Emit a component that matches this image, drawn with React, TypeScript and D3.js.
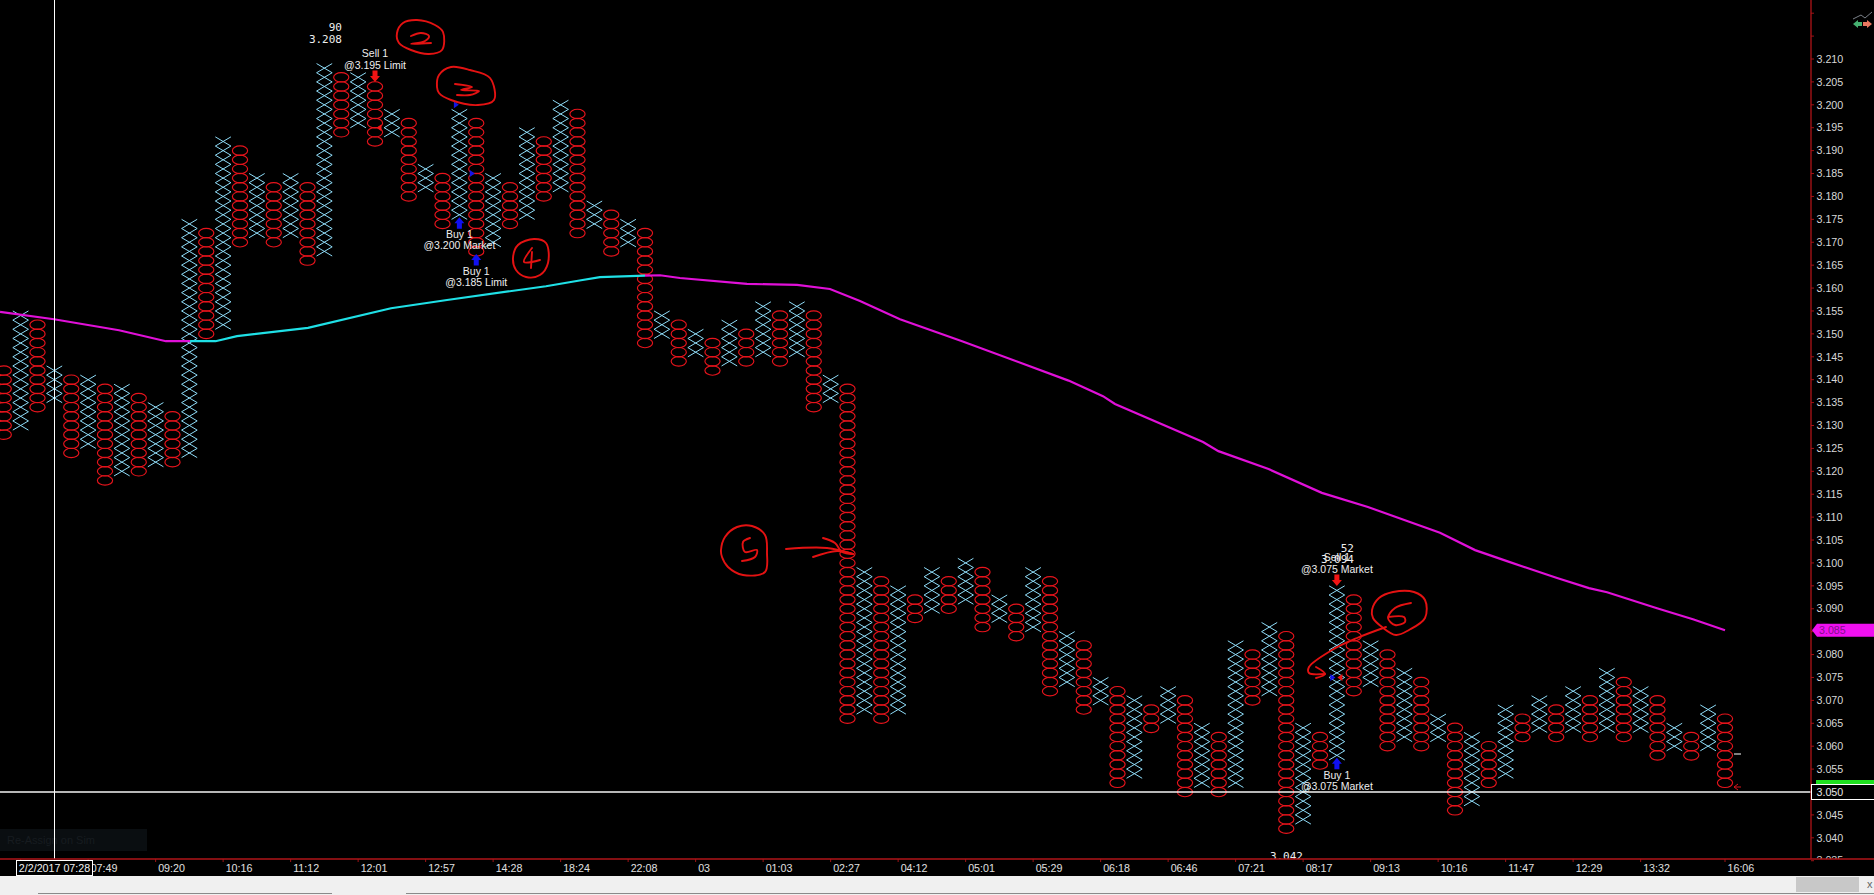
import * as React from "react";
import * as d3 from "d3";

// point & figure columns, even index = O column, odd index = X column
const columnHighs = [
  3.142, 3.154, 3.152, 3.142, 3.14, 3.14, 3.138, 3.138, 3.136, 3.134, 3.132, 3.174, 3.172,
  3.192, 3.19, 3.184, 3.182, 3.184, 3.182, 3.208, 3.206, 3.206, 3.204, 3.198, 3.196, 3.186,
  3.184, 3.198, 3.196, 3.184, 3.182, 3.194, 3.192, 3.2, 3.198, 3.178, 3.176, 3.174, 3.172,
  3.154, 3.152, 3.15, 3.148, 3.152, 3.15, 3.156, 3.154, 3.156, 3.154, 3.14, 3.138, 3.098,
  3.096, 3.094, 3.092, 3.098, 3.096, 3.1, 3.098, 3.092, 3.09, 3.098, 3.096, 3.084, 3.082,
  3.074, 3.072, 3.07, 3.068, 3.072, 3.07, 3.064, 3.062, 3.082, 3.08, 3.086, 3.084, 3.064,
  3.062, 3.094, 3.092, 3.082, 3.08, 3.076, 3.074, 3.066, 3.064, 3.062, 3.06, 3.068, 3.066,
  3.07, 3.068, 3.072, 3.07, 3.076, 3.074, 3.072, 3.07, 3.064, 3.062, 3.068, 3.066,
];
const columnLows = [
  3.128, 3.13, 3.134, 3.136, 3.124, 3.126, 3.118, 3.12, 3.12, 3.122, 3.122, 3.124, 3.15,
  3.152, 3.17, 3.172, 3.17, 3.172, 3.166, 3.168, 3.194, 3.196, 3.192, 3.194, 3.18, 3.182,
  3.174, 3.176, 3.168, 3.17, 3.174, 3.176, 3.18, 3.182, 3.172, 3.174, 3.168, 3.17, 3.148,
  3.15, 3.144, 3.146, 3.142, 3.144, 3.144, 3.146, 3.144, 3.146, 3.134, 3.136, 3.066, 3.068,
  3.066, 3.068, 3.088, 3.09, 3.09, 3.092, 3.086, 3.088, 3.084, 3.086, 3.072, 3.074, 3.068,
  3.07, 3.052, 3.054, 3.064, 3.066, 3.05, 3.052, 3.05, 3.052, 3.07, 3.072, 3.042, 3.044,
  3.056, 3.058, 3.072, 3.074, 3.06, 3.062, 3.06, 3.062, 3.046, 3.048, 3.052, 3.054, 3.062,
  3.064, 3.062, 3.064, 3.062, 3.064, 3.062, 3.064, 3.058, 3.06, 3.058, 3.06, 3.052,
];
const boxSize = 0.002;

// moving average, first stretch falling, then rising (cyan), then falling again
const maFallingColsA = [-0.22, 2.98, 6.83, 9.61, 11.04];
const maFallingValuesA = [3.1548, 3.1532, 3.1508, 3.1484, 3.1484];
const maRisingCols = [11.04, 12.55, 13.82, 18.03, 22.95, 26.27, 32.13, 34.21, 35.33, 38];
const maRisingValues = [3.1484, 3.1484, 3.1495, 3.1513, 3.1556, 3.1574, 3.1604, 3.1617, 3.1624, 3.1627];
const maFallingColsB = [
  38, 38.89, 40.07, 44.04, 47.01, 48.96, 50.74, 53.11, 56.79, 63.1, 65.14, 65.85, 71.07, 71.98,
  74.95, 78.11, 80.84, 85.11, 87.19, 89.08, 92.05, 93.94, 95.01, 97.97, 100.1, 102,
];
const maFallingValuesB = [
  3.1627, 3.1628, 3.1622, 3.1609, 3.1607, 3.1598, 3.1572, 3.1532, 3.1484, 3.1398, 3.1364, 3.1347,
  3.1264, 3.1244, 3.1205, 3.1153, 3.1122, 3.1066, 3.1028, 3.1004, 3.0967, 3.0945, 3.0936, 3.0901,
  3.0877, 3.0853,
];

const priceTicks = d3.range(0, 38).map((i) => +(3.22 - i * 0.005).toFixed(3));
const priceLabels = priceTicks.filter((p) => p <= 3.21);
const timeCols = [1, 5, 9, 13, 17, 21, 25, 29, 33, 37, 41, 45, 49, 53, 57, 61, 65, 69, 73, 77, 81, 85, 89, 93, 97, 102];
const timeLabels = [
  "06:58", "07:49", "09:20", "10:16", "11:12", "12:01", "12:57", "14:28", "18:24", "22:08", "03",
  "01:03", "02:27", "04:12", "05:01", "05:29", "06:18", "06:46", "07:21", "08:17", "09:13", "10:16",
  "11:47", "12:29", "13:32", "16:06",
];

// price is the box the arrow points at
const trades = [
  { col: 22, side: "sell", price: 3.204, title: "Sell 1", order: "@3.195 Limit" },
  { col: 27, side: "buy", price: 3.176, title: "Buy 1", order: "@3.200 Market" },
  { col: 28, side: "buy", price: 3.168, title: "Buy 1", order: "@3.185 Limit" },
  { col: 79, side: "sell", price: 3.094, title: "Sell 1", order: "@3.075 Market" },
  { col: 79, side: "buy", price: 3.058, title: "Buy 1", order: "@3.075 Market" },
];

// the hand drawn annotations on top of the screenshot
type Ink = { pts: [number, number][]; closed?: boolean };
const ink: Ink[] = [
  { closed: true, pts: [[397, 33], [403, 23], [417, 20], [435, 25], [443, 32], [442, 50], [429, 54], [411, 50], [399, 43]] },
  { pts: [[411, 36], [421, 33], [429, 36], [425, 41], [411, 44], [431, 43]] },
  { closed: true, pts: [[437, 87], [439, 75], [451, 67], [470, 70], [490, 78], [494, 100], [478, 105], [451, 100], [439, 93]] },
  { pts: [[455, 84], [472, 87], [461, 90], [479, 91], [470, 95], [457, 95]] },
  { closed: true, pts: [[513, 258], [518, 245], [534, 239], [546, 243], [548, 263], [540, 275], [526, 277], [516, 270]] },
  { pts: [[532, 248], [524, 262], [540, 260]] },
  { pts: [[532, 252], [531, 268]] },
  { closed: true, pts: [[721, 550], [725, 537], [737, 527], [752, 526], [765, 535], [767, 553], [765, 572], [743, 575], [728, 567], [722, 557]] },
  { pts: [[750, 538], [743, 542], [745, 552], [757, 550], [755, 557], [742, 561]] },
  { pts: [[786, 549], [827, 548], [853, 554]] },
  { pts: [[823, 538], [835, 543], [842, 552], [853, 554]] },
  { pts: [[813, 557], [837, 551], [853, 554]] },
  { closed: true, pts: [[1372, 610], [1379, 598], [1393, 592], [1414, 592], [1425, 600], [1425, 618], [1409, 630], [1396, 635], [1382, 627], [1373, 618]] },
  { pts: [[1411, 603], [1395, 608], [1388, 618], [1395, 625], [1405, 622], [1404, 617], [1388, 617]] },
  { pts: [[1386, 627], [1357, 638], [1332, 650], [1309, 667], [1309, 673], [1325, 674]] },
  { pts: [[1316, 667], [1325, 674], [1316, 678]] },
];

const WIDTH = 1874;
const HEIGHT = 895;
const AXIS_X = 1811;
const AXIS_Y = 859;
const SANS = "'Liberation Sans', Arial, sans-serif";
const MONO = "'DejaVu Sans Mono', monospace";

export default function App() {
  const svgRef = React.useRef<SVGSVGElement>(null);

  React.useEffect(() => {
    if (!svgRef.current) return;
    const svg = d3.select(svgRef.current);
    svg.selectAll("*").remove();

    const x = d3.scaleLinear().domain([0, 102]).range([3.75, 1725]);
    const y = d3.scaleLinear().domain([3.21, 3.05]).range([59, 792]);

    const defs = svg.append("defs");
    defs.append("clipPath").attr("id", "plot").append("rect")
      .attr("width", AXIS_X).attr("height", AXIS_Y);
    defs.append("clipPath").attr("id", "side").append("rect")
      .attr("x", AXIS_X).attr("width", WIDTH - AXIS_X).attr("height", AXIS_Y);

    svg.append("rect").attr("width", WIDTH).attr("height", HEIGHT).attr("fill", "#000");

    // faint order box bottom left
    svg.append("rect").attr("x", 0).attr("y", 829).attr("width", 147).attr("height", 22).attr("fill", "#0a0e11");
    svg.append("text").attr("x", 7).attr("y", 844).text("Re-Assign on Sim")
      .attr("fill", "#171c20").attr("font-family", SANS).attr("font-size", 11);

    const plot = svg.append("g").attr("clip-path", "url(#plot)");

    // columns
    columnHighs.forEach((high, i) => {
      const low = columnLows[i];
      const count = Math.round((high - low) / boxSize) + 1;
      const cx = x(i);
      const col = plot.append("g");
      d3.range(count).forEach((k) => {
        const cy = y(low + k * boxSize);
        if (i % 2 === 0) {
          col.append("ellipse")
            .attr("cx", cx).attr("cy", cy).attr("rx", 7.6).attr("ry", 4.7)
            .attr("fill", "none").attr("stroke", "#e8141c").attr("stroke-width", 1.15);
        } else {
          col.append("path")
            .attr("d", `M${cx - 7.8},${cy - 4.6}L${cx + 7.8},${cy + 4.6}M${cx + 7.8},${cy - 4.6}L${cx - 7.8},${cy + 4.6}`)
            .attr("fill", "none").attr("stroke", "#8fdcf8").attr("stroke-width", 1);
        }
      });
    });

    // moving average
    const maLine = d3.line<number>().x((d) => x(d)).curve(d3.curveLinear);
    const drawMa = (cols: number[], values: number[], color: string) => {
      plot.append("path")
        .attr("d", maLine.y((_, i) => y(values[i]))(cols))
        .attr("fill", "none").attr("stroke", color).attr("stroke-width", 2.2);
    };
    drawMa(maFallingColsA, maFallingValuesA, "#e010d8");
    drawMa(maRisingCols, maRisingValues, "#1fe0e6");
    drawMa(maFallingColsB, maFallingValuesB, "#e010d8");

    // trades
    trades.forEach((t) => {
      const cx = x(t.col);
      const g = plot.append("g");
      const isSell = t.side === "sell";
      const tip = y(t.price) + (isSell ? -4.5 : 2.5);
      const dir = isSell ? -1 : 1;
      g.append("path")
        .attr("d", `M${cx},${tip}L${cx + 5},${tip + dir * 6}L${cx + 2.5},${tip + dir * 6}L${cx + 2.5},${tip + dir * 11.5}L${cx - 2.5},${tip + dir * 11.5}L${cx - 2.5},${tip + dir * 6}L${cx - 5},${tip + dir * 6}Z`)
        .attr("fill", isSell ? "#f01414" : "#1010f0");
      const top = isSell ? tip - 28.5 : tip + 17;
      g.append("text").attr("x", cx).attr("y", top).attr("dy", "0.35em").text(t.title)
        .attr("text-anchor", "middle").attr("fill", "#eee").attr("font-family", SANS).attr("font-size", 10.5);
      g.append("text").attr("x", cx).attr("y", top + 11.5).attr("dy", "0.35em").text(t.order)
        .attr("text-anchor", "middle").attr("fill", "#eee").attr("font-family", SANS).attr("font-size", 10.5);
    });

    // little entry / exit markers
    const marker = (px: number, py: number, dir: number, color: string) => {
      plot.append("path")
        .attr("d", `M${px - dir * 2.5},${py - 3.5}L${px + dir * 2.5},${py}L${px - dir * 2.5},${py + 3.5}Z`)
        .attr("fill", color);
    };
    marker(x(27) - 3, y(3.2), 1, "#1414e6");
    marker(x(28) - 4, y(3.185), 1, "#1414e6");
    marker(x(22) + 4, y(3.195), -1, "#f01414");
    marker(x(79) - 4, y(3.075), 1, "#1414e6");
    marker(x(79) + 3, y(3.075), -1, "#f01414");

    // high / low labels
    const mono = (px: number, py: number, label: string, anchor: string) =>
      plot.append("text").attr("x", px).attr("y", py).attr("dy", "0.35em").text(label)
        .attr("text-anchor", anchor).attr("fill", "#eee")
        .attr("font-family", MONO).attr("font-size", 11);
    mono(342, 27, "90", "end");
    mono(342, 39, "3.208", "end");
    mono(1354, 548, "52", "end");
    mono(1354, 559, "3.094", "end");
    mono(1303, 856, "3.042", "end");

    // last price dash and arrow
    plot.append("line").attr("x1", 1734).attr("x2", 1741).attr("y1", 754).attr("y2", 754)
      .attr("stroke", "#fff").attr("stroke-width", 1);
    plot.append("path").attr("d", "M1734,787l7,0M1734,787l4,-3M1734,787l4,3")
      .attr("fill", "none").attr("stroke", "#d5141c").attr("stroke-width", 1);

    // crosshair
    svg.append("line").attr("x1", 54.5).attr("x2", 54.5).attr("y1", 0).attr("y2", AXIS_Y)
      .attr("stroke", "#fff").attr("stroke-width", 1);
    svg.append("line").attr("x1", 0).attr("x2", AXIS_X).attr("y1", y(3.05)).attr("y2", y(3.05))
      .attr("stroke", "#f4f4f4").attr("stroke-width", 1.3);

    // price axis
    const side = svg.append("g").attr("clip-path", "url(#side)");
    priceLabels.forEach((p) => {
      side.append("text").attr("x", 1816.5).attr("y", y(p)).attr("dy", "0.35em")
        .text(p.toFixed(3)).attr("fill", "#d8d8d8").attr("font-family", SANS).attr("font-size", 10.7);
    });
    svg.append("g").selectAll("line").data(priceTicks).join("line")
      .attr("x1", AXIS_X).attr("x2", AXIS_X + 3).attr("y1", (d) => y(d)).attr("y2", (d) => y(d))
      .attr("stroke", "#a01216").attr("stroke-width", 1);

    // time axis
    svg.append("g").selectAll("line").data(timeCols).join("line")
      .attr("x1", (d) => x(d)).attr("x2", (d) => x(d)).attr("y1", AXIS_Y).attr("y2", AXIS_Y + 3)
      .attr("stroke", "#a01216").attr("stroke-width", 1);
    svg.append("g").selectAll("text").data(timeCols.slice(1)).join("text")
      .attr("x", (d) => x(d) + 2.5).attr("y", 868).attr("dy", "0.35em")
      .text((_, i) => timeLabels[i + 1])
      .attr("fill", "#e0e0e0").attr("font-family", SANS).attr("font-size", 10.7);

    svg.append("line").attr("x1", AXIS_X).attr("x2", AXIS_X).attr("y1", 0).attr("y2", AXIS_Y)
      .attr("stroke", "#b01418").attr("stroke-width", 1.3);
    svg.append("line").attr("x1", 0).attr("x2", WIDTH).attr("y1", AXIS_Y).attr("y2", AXIS_Y)
      .attr("stroke", "#b01418").attr("stroke-width", 1.3);

    // price tags
    const tagMa = y(3.0853);
    svg.append("path")
      .attr("d", `M${AXIS_X + 1},${tagMa}L${AXIS_X + 6},${tagMa - 6.5}L${WIDTH},${tagMa - 6.5}L${WIDTH},${tagMa + 6.5}L${AXIS_X + 6},${tagMa + 6.5}Z`)
      .attr("fill", "#f010f0");
    svg.append("text").attr("x", 1819).attr("y", tagMa).attr("dy", "0.35em").text("3.085")
      .attr("fill", "#80108a").attr("font-family", SANS).attr("font-size", 10.7);
    svg.append("rect").attr("x", AXIS_X + 5).attr("y", 780).attr("width", WIDTH - AXIS_X - 5).attr("height", 5).attr("fill", "#1fe01f");
    svg.append("rect").attr("x", AXIS_X + 0.5).attr("y", 784.5).attr("width", WIDTH - AXIS_X).attr("height", 15)
      .attr("fill", "#000").attr("stroke", "#fff").attr("stroke-width", 1);
    svg.append("text").attr("x", 1816.5).attr("y", y(3.05)).attr("dy", "0.35em").text("3.050")
      .attr("fill", "#e8e8e8").attr("font-family", SANS).attr("font-size", 10.7);

    // crosshair date box
    svg.append("rect").attr("x", 16.5).attr("y", 860.5).attr("width", 76).attr("height", 15)
      .attr("fill", "#000").attr("stroke", "#fff").attr("stroke-width", 1);
    svg.append("text").attr("x", 54.5).attr("y", 868).attr("dy", "0.35em").text("2/2/2017 07:28")
      .attr("text-anchor", "middle").attr("fill", "#f0f0f0").attr("font-family", SANS).attr("font-size", 10.7);

    // window strip below the chart
    svg.append("rect").attr("x", 0).attr("y", 876).attr("width", WIDTH).attr("height", HEIGHT - 876).attr("fill", "#f0f0f0");
    svg.append("line").attr("x1", 38).attr("x2", 332).attr("y1", 893.5).attr("y2", 893.5).attr("stroke", "#8a8a8a").attr("stroke-width", 1);
    svg.append("line").attr("x1", 406).attr("x2", WIDTH).attr("y1", 893.5).attr("y2", 893.5).attr("stroke", "#8a8a8a").attr("stroke-width", 1);
    svg.append("rect").attr("x", 1796).attr("y", 877).attr("width", 63).attr("height", 15).attr("fill", "#c8c8c8");
    svg.append("text").attr("x", 1867).attr("y", 888).text("x").attr("fill", "#666").attr("font-family", SANS).attr("font-size", 11);

    // chart trader icon
    svg.append("path").attr("d", "M1853,19L1861,15L1865,18L1872,12").attr("fill", "none").attr("stroke", "#7a8088").attr("stroke-width", 1);
    svg.append("path").attr("d", "M1853,24L1858,20L1858,22L1862,22L1862,26L1858,26L1858,28Z").attr("fill", "#45b070");
    svg.append("path").attr("d", "M1872,24L1867,20L1867,22L1863,22L1863,26L1867,26L1867,28Z").attr("fill", "#e87860");

    // hand drawn ink
    const inkGroup = svg.append("g").attr("fill", "none").attr("stroke", "#e41212").attr("stroke-width", 1.9)
      .attr("stroke-linecap", "round").attr("stroke-linejoin", "round");
    const open = d3.line().curve(d3.curveCatmullRom);
    const closed = d3.line().curve(d3.curveCatmullRomClosed);
    ink.forEach((s) => {
      inkGroup.append("path").attr("d", (s.closed ? closed : open)(s.pts));
    });
  }, []);

  return (
    <svg
      ref={svgRef}
      width={WIDTH}
      height={HEIGHT}
      style={{ position: "fixed", top: 0, left: 0, display: "block" }}
    />
  );
}
